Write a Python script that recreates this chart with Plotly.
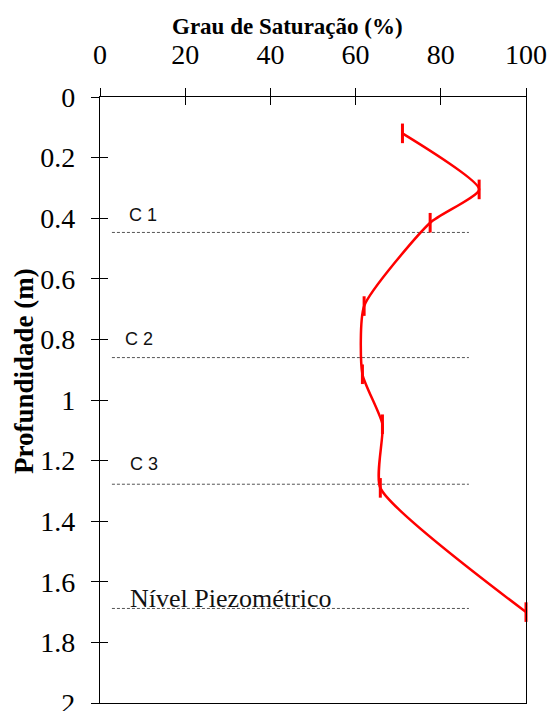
import plotly.graph_objects as go

# Data
saturacao = [71.0, 89.0, 77.5, 62.0, 61.6, 66.3, 65.8, 100.0]   # Grau de Saturação (%)
profundidade = [0.12, 0.305, 0.415, 0.69, 0.915, 1.08, 1.29, 1.70]  # Profundidade (m)

camadas = ["C 1", "C 2", "C 3", "Nível Piezométrico"]
camadas_prof = [0.447, 0.860, 1.278, 1.688]
camada_x = [2.8, 86.6]

x_ticks = [0, 20, 40, 60, 80, 100]
y_ticks = [0, 0.2, 0.4, 0.6, 0.8, 1, 1.2, 1.4, 1.6, 1.8, 2]
y_ticklabels = ["0", "0.2", "0.4", "0.6", "0.8", "1", "1.2", "1.4", "1.6", "1.8", "2"]

SERIF = "Liberation Serif"
SANS = "Liberation Sans"


def fam(t, family):
    return "<span style='font-family:\"%s\"'>%s</span>" % (family, t)


fig = go.Figure()

# horizontal dashed layer lines
for d in camadas_prof:
    fig.add_trace(go.Scatter(
        x=camada_x, y=[d, d], mode="lines",
        line=dict(color="#555555", width=1, dash="3px,2px"),
        hoverinfo="skip", showlegend=False))

# saturation profile
fig.add_trace(go.Scatter(
    x=saturacao, y=profundidade, mode="lines+markers",
    line=dict(color="#ff0000", width=2.5, shape="spline", smoothing=0.55),
    marker=dict(symbol="line-ns", size=14, line=dict(color="#ff0000", width=3)),
    cliponaxis=False, showlegend=False))

# invisible trace for overlay axes (inside ticks)
fig.add_trace(go.Scatter(x=[0], y=[0], xaxis="x2", yaxis="y2", mode="markers",
                         marker=dict(opacity=0), hoverinfo="skip", showlegend=False))

# layer labels
label_x = [6.3, 5.4, 6.6, 6.6]
label_y = [0.39, 0.80, 1.21, 1.655]
for i, name in enumerate(camadas):
    is_last = i == len(camadas) - 1
    f = SERIF if is_last else SANS
    fig.add_annotation(
        x=label_x[i], y=label_y[i], xref="x", yref="y", text=fam(name, f), showarrow=False,
        xanchor="left", yanchor="middle",
        font=dict(family=f, size=26 if is_last else 18, color="#111111"))

# axis titles
fig.add_annotation(x=0.441, y=1.117, xref="paper", yref="paper",
                   text=fam("<b>Grau de Saturação (%)</b>", SERIF), showarrow=False,
                   xanchor="center", yanchor="middle",
                   font=dict(family=SERIF, size=23, color="#000000"))
fig.add_annotation(x=-0.178, y=0.548, xref="paper", yref="paper",
                   text=fam("<b>Profundidade (m)</b>", SERIF), showarrow=False, textangle=-90,
                   xanchor="center", yanchor="middle",
                   font=dict(family=SERIF, size=27, color="#000000"))

axis_common = dict(showgrid=False, zeroline=False, linecolor="#000000", linewidth=1.3,
                   tickcolor="#000000", tickwidth=1.3, ticklen=8, automargin=False)
tick_font = dict(family=SERIF, size=28, color="#000000")

fig.update_layout(
    width=549, height=711,
    font=dict(family=SERIF, size=28, color="#000000"),
    margin=dict(l=100, r=23, t=97, b=8, autoexpand=False),
    paper_bgcolor="white", plot_bgcolor="white",
    xaxis=dict(range=[0, 100], side="top", tickvals=x_ticks,
               ticktext=[fam(str(v), SERIF) for v in x_ticks],
               ticks="outside", mirror=True, showline=True, ticklabelstandoff=13,
               ticklabeloverflow="allow", tickfont=tick_font, **axis_common),
    yaxis=dict(range=[2, 0], tickvals=y_ticks, ticktext=[fam(t, SERIF) for t in y_ticklabels],
               ticks="outside", mirror=True, showline=True, ticklabelstandoff=10,
               ticklabeloverflow="allow", tickfont=tick_font, **axis_common),
    xaxis2=dict(range=[0, 100], overlaying="x", side="top", tickvals=x_ticks,
                ticks="inside", showticklabels=False, showline=False, **axis_common),
    yaxis2=dict(range=[2, 0], overlaying="y", side="left", tickvals=y_ticks,
                ticks="inside", showticklabels=False, showline=False, **axis_common),
)

page_fix = (
    "document.documentElement.style.overflow='hidden';"
    "document.body.style.margin='0';"
    "document.body.style.overflow='hidden';"
)

fig.write_html("out.html", config={"displayModeBar": False}, post_script=page_fix)
